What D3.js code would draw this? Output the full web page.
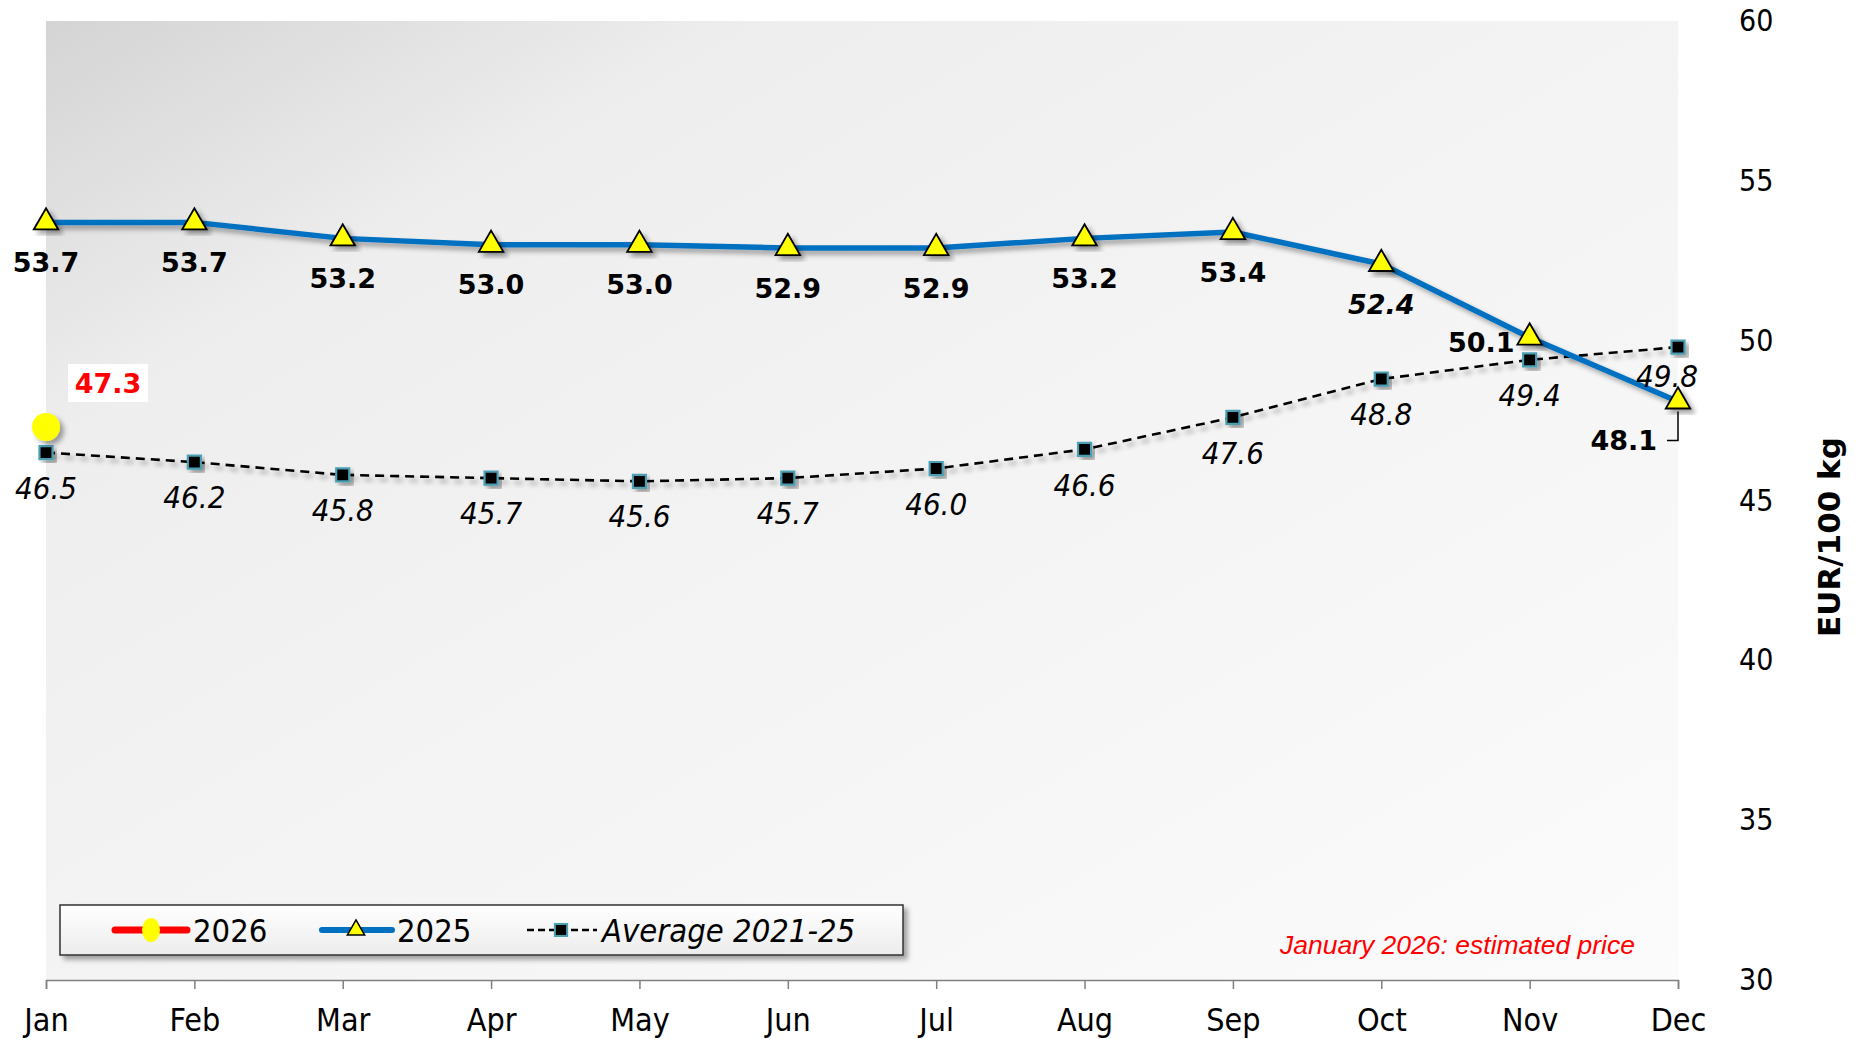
<!DOCTYPE html>
<html>
<head>
<meta charset="utf-8">
<script src="https://cdn.jsdelivr.net/npm/d3@7"></script>
<style>
html,body{margin:0;padding:0;background:#fff;}
svg{display:block;}
</style>
</head>
<body>
<svg id="chart" width="1860" height="1039"></svg>
<script>
// ---- data ----
const months = ["Jan","Feb","Mar","Apr","May","Jun","Jul","Aug","Sep","Oct","Nov","Dec"];
const values2025 = [53.7,53.7,53.2,53.0,53.0,52.9,52.9,53.2,53.4,52.4,50.1,48.1];
const valuesAvg = [46.5,46.2,45.8,45.7,45.6,45.7,46.0,46.6,47.6,48.8,49.4,49.8];
const values2026 = [47.3];
const yTicks = [30,35,40,45,50,55,60];
const seriesNames = ["2026","2025","Average 2021-25"];
const yTitle = "EUR/100 kg";
const noteText = "January 2026: estimated price";

// ---- layout ----
const plot = {left:46, right:1678, top:21, bottom:980};
const svg = d3.select("#chart");
const defs = svg.append("defs");

const bg = defs.append("linearGradient").attr("id","bgGrad")
  .attr("x1","0").attr("y1","0").attr("x2","1").attr("y2","1");
bg.append("stop").attr("offset","0").attr("stop-color","#d4d4d4");
bg.append("stop").attr("offset","0.22").attr("stop-color","#eeeeee");
bg.append("stop").attr("offset","0.6").attr("stop-color","#f5f5f5");
bg.append("stop").attr("offset","1").attr("stop-color","#fbfbfb");

const lg = defs.append("linearGradient").attr("id","legGrad")
  .attr("x1","0").attr("y1","0").attr("x2","0").attr("y2","1");
lg.append("stop").attr("offset","0").attr("stop-color","#ffffff");
lg.append("stop").attr("offset","1").attr("stop-color","#ececec");

const sh = defs.append("filter").attr("id","shadow")
  .attr("x","-30%").attr("y","-30%").attr("width","160%").attr("height","160%");
sh.append("feDropShadow").attr("dx",4).attr("dy",4).attr("stdDeviation",2.5)
  .attr("flood-color","#000").attr("flood-opacity",0.35);

const x = d3.scalePoint().domain(months).range([plot.left, plot.right]).padding(0);
const y = d3.scaleLinear().domain([30,60]).range([plot.bottom, plot.top]);

svg.append("rect").attr("x",plot.left).attr("y",plot.top)
  .attr("width",plot.right-plot.left).attr("height",plot.bottom-plot.top)
  .attr("fill","url(#bgGrad)");

const cond = "'DejaVu Sans Condensed','DejaVu Sans',sans-serif";
const bold = "'DejaVu Sans',sans-serif";

// x axis
const xAxis = svg.append("g").attr("transform",`translate(0,${plot.bottom})`)
  .call(d3.axisBottom(x).tickSize(9).tickPadding(19));
xAxis.select(".domain").attr("stroke","#808080").attr("stroke-width",1.5);
xAxis.selectAll(".tick line").attr("stroke","#808080").attr("stroke-width",1.5);
xAxis.selectAll("text").attr("font-family",cond).attr("font-size",32).attr("fill","#000");

// y axis (right, labels only)
const yAxis = svg.append("g").attr("transform",`translate(${plot.right},0)`)
  .call(d3.axisRight(y).tickValues(yTicks).tickSize(0).tickPadding(61));
yAxis.select(".domain").remove();
yAxis.selectAll("text").attr("font-family",cond).attr("font-size",30).attr("fill","#000");

svg.append("text").attr("transform",`translate(1840,537) rotate(-90)`)
  .attr("text-anchor","middle").attr("font-family",bold)
  .attr("font-weight","bold").attr("font-size",31).text(yTitle);

// lines
const line = d3.line().x((d,i)=>x(months[i])).y(d=>y(d));

svg.append("path").datum(valuesAvg).attr("d",line).attr("fill","none")
  .attr("stroke","#000").attr("stroke-width",2.6).attr("stroke-dasharray","9,6")
  .attr("filter","url(#shadow)");
svg.append("path").datum(values2025).attr("d",line).attr("fill","none")
  .attr("stroke","#0070c0").attr("stroke-width",5.5).attr("stroke-linejoin","round")
  .attr("filter","url(#shadow)");

// avg markers
svg.append("g").selectAll("path").data(valuesAvg).join("path")
  .attr("d",d3.symbol(d3.symbolSquare).size(170))
  .attr("transform",(d,i)=>`translate(${x(months[i])},${y(d)})`)
  .attr("fill","#000").attr("stroke","#4b9fb3").attr("stroke-width",2.2)
  .attr("filter","url(#shadow)");

// 2025 markers
svg.append("g").selectAll("path").data(values2025).join("path")
  .attr("d",d3.symbol(d3.symbolTriangle).size(260))
  .attr("transform",(d,i)=>`translate(${x(months[i])},${y(d)})`)
  .attr("fill","#ffff00").attr("stroke","#000").attr("stroke-width",1.8)
  .attr("filter","url(#shadow)");

// 2026 marker
svg.append("g").selectAll("circle").data(values2026).join("circle")
  .attr("cx",(d,i)=>x(months[i])).attr("cy",d=>y(d)).attr("r",14)
  .attr("fill","#ffff00").attr("filter","url(#shadow)");

// labels 2025
function lab2025(i){
  if(i===10) return {dx:-15, dy:5, anchor:"end"};
  if(i===11) return {dx:-21, dy:39, anchor:"end"};
  return {dx:0, dy:40, anchor:"middle"};
}
svg.append("g").selectAll("text").data(values2025).join("text")
  .attr("x",(d,i)=>x(months[i])+lab2025(i).dx)
  .attr("y",(d,i)=>y(d)+lab2025(i).dy)
  .attr("dy","0.36em")
  .attr("text-anchor",(d,i)=>lab2025(i).anchor)
  .attr("font-family",bold).attr("font-weight","bold").attr("font-size",27)
  .attr("font-style",(d,i)=>i===9?"italic":"normal")
  .text(d=>d.toFixed(1));

// leader line for Dec
{
  const xd = x(months[11]), yd = y(values2025[11]);
  svg.append("path").attr("d",`M${xd-11},${yd+39} H${xd} V${yd+10}`)
    .attr("fill","none").attr("stroke","#000").attr("stroke-width",1.5);
}

// labels avg
function labAvg(i){
  if(i===11) return {dx:-11, dy:29};
  return {dx:0, dy:35};
}
svg.append("g").selectAll("text").data(valuesAvg).join("text")
  .attr("x",(d,i)=>x(months[i])+labAvg(i).dx)
  .attr("y",(d,i)=>y(d)+labAvg(i).dy)
  .attr("dy","0.36em").attr("text-anchor","middle")
  .attr("font-family",cond).attr("font-style","italic").attr("font-size",31)
  .text(d=>d.toFixed(1));

// 2026 label with white box
{
  const g = svg.append("g").selectAll("g").data(values2026).join("g");
  g.append("rect").attr("x",(d,i)=>x(months[i])+22).attr("y",d=>y(d)-63)
    .attr("width",80).attr("height",38).attr("fill","#fff");
  g.append("text").attr("x",(d,i)=>x(months[i])+62).attr("y",d=>y(d)-44)
    .attr("dy","0.36em").attr("text-anchor","middle")
    .attr("font-family",bold).attr("font-weight","bold").attr("font-size",27)
    .attr("fill","#ff0000").text(d=>d.toFixed(1));
}

// legend
const leg = svg.append("g");
leg.append("rect").attr("x",60).attr("y",905).attr("width",843).attr("height",50)
  .attr("fill","url(#legGrad)").attr("stroke","#333").attr("stroke-width",1.5)
  .attr("filter","url(#shadow)");
const ly = 930;
// 2026
leg.append("line").attr("x1",115).attr("x2",187).attr("y1",ly).attr("y2",ly)
  .attr("stroke","#ff0000").attr("stroke-width",7).attr("stroke-linecap","round");
leg.append("ellipse").attr("cx",151).attr("cy",ly).attr("rx",9).attr("ry",12).attr("fill","#ffff00");
// 2025
leg.append("line").attr("x1",322).attr("x2",392).attr("y1",ly).attr("y2",ly)
  .attr("stroke","#0070c0").attr("stroke-width",6).attr("stroke-linecap","round");
leg.append("path").attr("d",d3.symbol(d3.symbolTriangle).size(130))
  .attr("transform",`translate(356,${ly})`).attr("fill","#ffff00").attr("stroke","#000").attr("stroke-width",1.5);
// avg
leg.append("line").attr("x1",527).attr("x2",597).attr("y1",ly).attr("y2",ly)
  .attr("stroke","#000").attr("stroke-width",2.6).attr("stroke-dasharray","7,4");
leg.append("path").attr("d",d3.symbol(d3.symbolSquare).size(150))
  .attr("transform",`translate(561,${ly})`).attr("fill","#000").attr("stroke","#4b9fb3").attr("stroke-width",2);
const legX = [193,397,602];
leg.selectAll("text.lt").data(seriesNames).join("text").attr("class","lt")
  .attr("x",(d,i)=>legX[i]).attr("y",ly).attr("dy","0.36em")
  .attr("font-family",cond).attr("font-size",32.5)
  .attr("font-style",(d,i)=>i===2?"italic":"normal").text(d=>d);

// note
svg.append("text").attr("x",1635).attr("y",944).attr("dy","0.36em").attr("text-anchor","end")
  .attr("font-family","'Liberation Sans',Arial,sans-serif").attr("font-style","italic")
  .attr("font-size",26.5).attr("fill","#ff0000").text(noteText);
</script>
</body>
</html>
